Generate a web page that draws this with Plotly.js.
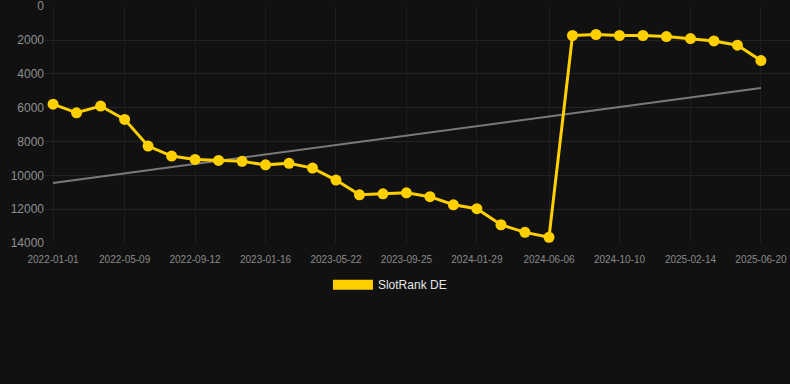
<!DOCTYPE html>
<html>
<head>
<meta charset="utf-8">
<script src="https://cdn.plot.ly/plotly-3.0.1.min.js"></script>
<style>
  html, body { margin: 0; padding: 0; background: #111111; }
  #chart { width: 790px; height: 384px; }
</style>
</head>
<body>
<div id="chart"></div>
<script>
const dates = [
  "2022-01-01", "2022-02-12", "2022-03-27",
  "2022-05-09", "2022-06-20", "2022-08-01",
  "2022-09-12", "2022-10-24", "2022-12-05",
  "2023-01-16", "2023-02-27", "2023-04-10",
  "2023-05-22", "2023-07-03", "2023-08-14",
  "2023-09-25", "2023-11-06", "2023-12-18",
  "2024-01-29", "2024-03-12", "2024-04-24",
  "2024-06-06", "2024-07-18", "2024-08-29",
  "2024-10-10", "2024-11-21", "2025-01-02",
  "2025-02-14", "2025-03-28", "2025-05-09",
  "2025-06-20"
];
const rankDE = [
  5790, 6300, 5900,
  6690, 8270, 8860,
  9060, 9120, 9170,
  9380, 9290, 9570,
  10280, 11150, 11090,
  11030, 11260, 11740,
  11970, 12920, 13370,
  13660, 1730, 1670,
  1730, 1730, 1790,
  1910, 2050, 2300,
  3210
];
const trendDates = ["2022-01-01", "2025-06-20"];
const trendValues = [10455, 4830];
const tickDates = [
  "2022-01-01", "2022-05-09", "2022-09-12", "2023-01-16", "2023-05-22",
  "2023-09-25", "2024-01-29", "2024-06-06", "2024-10-10", "2025-02-14", "2025-06-20"
];
const yTicks = [0, 2000, 4000, 6000, 8000, 10000, 12000, 14000];
const seriesName = "SlotRank DE";

const gold = "#FFD000";

const traces = [
  {
    x: trendDates, y: trendValues, type: "scatter", mode: "lines",
    line: { color: "rgba(140,140,140,0.85)", width: 2 },
    showlegend: false, hoverinfo: "skip"
  },
  {
    x: dates, y: rankDE, type: "scatter", mode: "lines+markers",
    name: seriesName,
    line: { color: gold, width: 3 },
    marker: { color: gold, size: 11 },
    showlegend: false
  },
  {
    x: [null], y: [null], type: "scatter", mode: "lines",
    name: seriesName,
    line: { color: gold, width: 12 },
    showlegend: true
  }
];

const layout = {
  width: 790, height: 384,
  paper_bgcolor: "#111111",
  plot_bgcolor: "#111111",
  font: { family: "Liberation Sans, Arial, sans-serif", color: "#8a8a8a" },
  margin: { l: 45, r: 0, t: 6, b: 140.5 },
  showlegend: true,
  legend: {
    orientation: "h", x: 0.463, xanchor: "center", y: -0.115, yanchor: "top",
    itemwidth: 40,
    font: { size: 12, color: "#e6e6e6" },
    bgcolor: "rgba(0,0,0,0)"
  },
  xaxis: {
    type: "date",
    range: ["2021-12-17 14:00", "2025-08-11"],
    tickmode: "array",
    tickvals: tickDates,
    ticktext: tickDates,
    tickfont: { size: 10, color: "#8a8a8a" },
    tickangle: 0,
    gridcolor: "#1e1e1e",
    showline: false,
    zeroline: false,
    ticks: "",
    ticklabelstandoff: 9
  },
  yaxis: {
    range: [14000, -15],
    tickmode: "array",
    tickvals: yTicks,
    ticktext: yTicks.map(String),
    tickfont: { size: 12, color: "#8f8f8f" },
    ticklabeloverflow: "allow",
    gridcolor: "#222222",
    zeroline: false,
    showline: false,
    ticks: ""
  }
};

Plotly.newPlot("chart", traces, layout, { displayModeBar: false, staticPlot: true });
</script>
</body>
</html>
